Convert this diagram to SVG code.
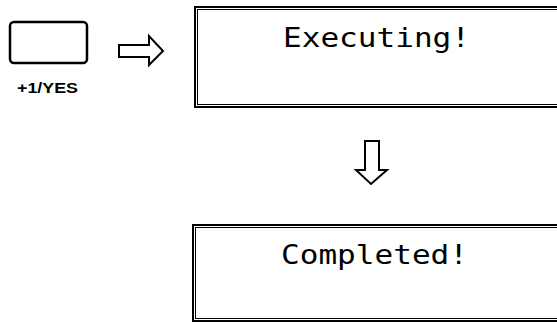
<svg xmlns="http://www.w3.org/2000/svg" width="557" height="323" viewBox="0 0 557 323">
<style>
.frame{fill:none;stroke:#000;stroke-width:2}
.inner{fill:none;stroke:#000;stroke-width:1}
.btn{fill:none;stroke:#000;stroke-width:2.5}
.arrow{fill:#fff;stroke:#000;stroke-width:2;stroke-linejoin:miter}
.lcd{font-family:"DejaVu Sans Mono","Liberation Mono",monospace;font-size:26px;fill:#000}
.lbl{font-family:"Liberation Sans",Arial,sans-serif;font-size:14px;font-weight:bold;fill:#000}
</style>
<rect width="557" height="323" fill="#fff"/>
<g id="button">
<rect x="10" y="22" width="77" height="41" rx="4" class="btn"/>
<text x="17" y="93" class="lbl" textLength="61" lengthAdjust="spacingAndGlyphs">+1/YES</text>
</g>
<g id="lcd-executing">
<rect x="195" y="7" width="370" height="100" class="frame"/>
<rect x="197.5" y="9.5" width="370" height="95" class="inner"/>
<text x="283" y="47" class="lcd" textLength="187" lengthAdjust="spacingAndGlyphs">Executing!</text>
</g>
<g id="lcd-completed">
<rect x="193" y="225" width="372" height="96" class="frame"/>
<rect x="195.5" y="227.5" width="372" height="91" class="inner"/>
<text x="281" y="264" class="lcd" textLength="187" lengthAdjust="spacingAndGlyphs">Completed!</text>
</g>
<g id="connectors">
<path d="M119,45 H149 V36 L163,51 L149,65 V57 H119 Z" class="arrow"/>
<path d="M365,141 H379 V170 H387 L371,184 L356,170 H365 Z" class="arrow"/>
</g>
</svg>
